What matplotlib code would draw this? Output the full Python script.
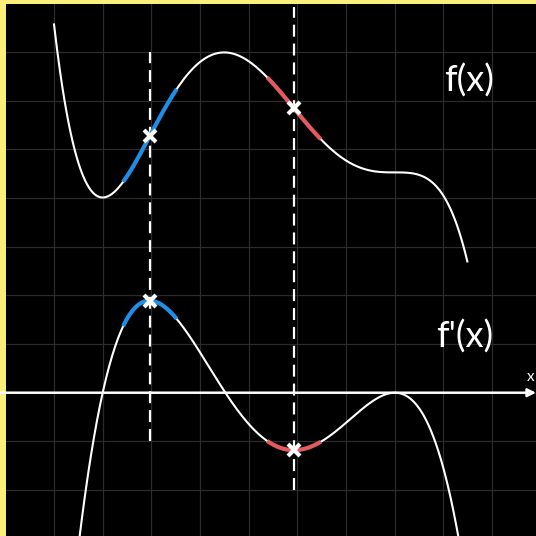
import numpy as np
import matplotlib.pyplot as plt

# slope curve: g(x) = -k (x - r1)(x - r2)(x - r3)^2
deriv_roots = [2.0, 4.52, 8.0, 8.0]
deriv_scale = 0.0497
df_range = [1.3, 9.6]

# upper curve: antiderivative of -k (x - r1)(x - r2)(x - r3)^2
f_roots = [2.0, 4.495, 8.0, 8.0]
f_scale = 0.0503
f_anchor = (2.0, 4.01)          # value at the local minimum
f_range = [1.0, 9.49]

# vertical guides: x position, y bottom, y top
guide_x = [2.97, 5.93]
guide_ybot = [-1.0, -2.0]
guide_ytop = [7.0, 7.92]
seg_colors = ['#1f8fe6', '#e35a5f']
seg_half = 0.55

labels = ['f(x)', "f'(x)"]
label_pos = [(9.53, 6.42), (9.44, 1.16)]

dpoly = -deriv_scale * np.poly1d(deriv_roots, r=True)
fpoly = (-f_scale * np.poly1d(f_roots, r=True)).integ()
fpoly = fpoly - fpoly(f_anchor[0]) + f_anchor[1]

fig = plt.figure(figsize=(5.36, 5.36), dpi=100, facecolor='#fbef7c')
ax = fig.add_axes([6/536, 0, 530/536, 532/536])
ax.set_facecolor('black')
ax.set_xlim(0.014, 10.90)
ax.set_ylim(-2.944, 7.986)

ax.set_xticks(np.arange(1, 11))
ax.set_yticks(np.arange(-2, 8))
ax.grid(True, color='#2b2b2b', lw=0.9)
ax.tick_params(length=0, labelbottom=False, labelleft=False)
for s in ax.spines.values():
    s.set_visible(False)

# x axis with arrow
ax.annotate('', xy=(10.9, 0), xytext=(-0.2, 0),
            arrowprops=dict(arrowstyle='-|>', color='white', lw=1.8,
                            mutation_scale=12, shrinkA=0, shrinkB=0),
            zorder=3)
ax.text(10.78, 0.32, 'x', color='white', fontsize=11, ha='center', va='center',
        family='Lato')

xf = np.linspace(*f_range, 400)
ax.plot(xf, fpoly(xf), color='white', lw=1.5, zorder=4)
xd = np.linspace(*df_range, 400)
ax.plot(xd, dpoly(xd), color='white', lw=1.5, zorder=4)

for gx, yb, yt, c in zip(guide_x, guide_ybot, guide_ytop, seg_colors):
    ax.plot([gx, gx], [yb, yt], color='white', lw=1.6, dashes=(5.4, 3.1), zorder=2)
    xs = np.linspace(gx - seg_half, gx + seg_half, 60)
    ax.plot(xs, fpoly(xs), color=c, lw=3, solid_capstyle='butt', zorder=5)
    ax.plot(xs, dpoly(xs), color=c, lw=3, solid_capstyle='butt', zorder=5)
    ax.plot([gx, gx], [fpoly(gx), dpoly(gx)], ls='none', marker='x',
            color='white', ms=8, mew=3, zorder=6)

for t, (lx, ly) in zip(labels, label_pos):
    ax.text(lx, ly, t, color='white', fontsize=26, ha='center', va='center',
            family='Lato')

fig.savefig('out.png', dpi=100, facecolor=fig.get_facecolor())
